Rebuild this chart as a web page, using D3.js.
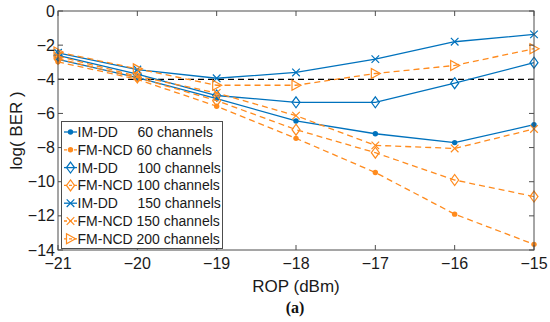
<!DOCTYPE html>
<html>
<head>
<meta charset="utf-8">
<script src="https://cdn.jsdelivr.net/npm/d3@7"></script>
<style>
  body { margin: 0; background: #fff; }
  text { font-family: "Liberation Sans", Arial, sans-serif; }
</style>
</head>
<body>
<svg id="chart" width="550" height="322"></svg>
<script>
// data
var rop = [-21, -20, -19, -18, -17, -16, -15];
var imdd60   = [-2.84, -3.9, -5.13, -6.44, -7.19, -7.71, -6.66];
var fmncd60  = [-2.98, -4.0, -5.58, -7.46, -9.46, -11.9, -13.67];
var imdd100  = [-2.6, -3.7, -4.95, -5.35, -5.35, -4.23, -3.03];
var fmncd100 = [-2.8, -3.9, -5.25, -6.95, -8.3, -9.9, -10.87];
var imdd150  = [-2.45, -3.43, -3.94, -3.6, -2.82, -1.8, -1.37];
var fmncd150 = [-2.65, -3.82, -4.8, -6.13, -7.87, -8.05, -6.91];
var fmncd200 = [-2.4, -3.39, -4.35, -4.35, -3.66, -3.19, -2.21];
var threshold = -4;
var xTicks = [-21, -20, -19, -18, -17, -16, -15];
var yTicks = [0, -2, -4, -6, -8, -10, -12, -14];

var blue = '#0072BD', orange = '#FF8B1E';

var series = [
  {tech: 'IM-DD',  ch: '60 channels',  vals: imdd60,   color: blue,   dash: null,  mark: 'dot'},
  {tech: 'FM-NCD', ch: '60 channels',  vals: fmncd60,  color: orange, dash: '6,4', mark: 'dot'},
  {tech: 'IM-DD',  ch: '100 channels', vals: imdd100,  color: blue,   dash: null,  mark: 'diamond'},
  {tech: 'FM-NCD', ch: '100 channels', vals: fmncd100, color: orange, dash: '6,4', mark: 'diamond'},
  {tech: 'IM-DD',  ch: '150 channels', vals: imdd150,  color: blue,   dash: null,  mark: 'x'},
  {tech: 'FM-NCD', ch: '150 channels', vals: fmncd150, color: orange, dash: '6,4', mark: 'x'},
  {tech: 'FM-NCD', ch: '200 channels', vals: fmncd200, color: orange, dash: '6,4', mark: 'tri'}
];

var L = 58, T = 11, R = 534, B = 250;
var svg = d3.select('#chart');
var x = d3.scaleLinear().domain([-21, -15]).range([L, R]);
var y = d3.scaleLinear().domain([-14, 0]).range([B, T]);
var axisColor = '#4d4d4d';
var textColor = '#1a1a1a';

// threshold line
svg.append('line')
  .attr('x1', x(-21)).attr('x2', x(-15))
  .attr('y1', y(threshold)).attr('y2', y(threshold))
  .attr('stroke', '#000').attr('stroke-width', 1.3).attr('stroke-dasharray', '6,4');

var line = d3.line().x(function (d, i) { return x(rop[i]); }).y(function (d) { return y(d); });

function drawMarker(g, type, cx, cy, color) {
  if (type === 'dot') {
    g.append('circle').attr('cx', cx).attr('cy', cy).attr('r', 2.7).attr('fill', color);
  } else if (type === 'diamond') {
    g.append('path').attr('d', 'M' + cx + ',' + (cy - 5.5) + 'L' + (cx + 4) + ',' + cy + 'L' + cx + ',' + (cy + 5.5) + 'L' + (cx - 4) + ',' + cy + 'Z')
      .attr('fill', 'none').attr('stroke', color).attr('stroke-width', 1.2);
  } else if (type === 'x') {
    var s = 3.8;
    g.append('path').attr('d', 'M' + (cx - s) + ',' + (cy - s) + 'L' + (cx + s) + ',' + (cy + s) + 'M' + (cx - s) + ',' + (cy + s) + 'L' + (cx + s) + ',' + (cy - s))
      .attr('fill', 'none').attr('stroke', color).attr('stroke-width', 1.2);
  } else if (type === 'tri') {
    g.append('path').attr('d', 'M' + (cx - 4) + ',' + (cy - 5) + 'L' + (cx + 5) + ',' + cy + 'L' + (cx - 4) + ',' + (cy + 5) + 'Z')
      .attr('fill', 'none').attr('stroke', color).attr('stroke-width', 1.2);
  }
}

series.forEach(function (s) {
  var g = svg.append('g');
  g.append('path').attr('d', line(s.vals))
    .attr('fill', 'none').attr('stroke', s.color).attr('stroke-width', 1.3)
    .attr('stroke-dasharray', s.dash);
  s.vals.forEach(function (v, i) { drawMarker(g, s.mark, x(rop[i]), y(v), s.color); });
});

// axes: box with inward ticks on all sides
var tickLen = 5;
var ax = svg.append('g');
ax.append('rect').attr('x', L).attr('y', T).attr('width', R - L).attr('height', B - T)
  .attr('fill', 'none').attr('stroke', axisColor).attr('stroke-width', 1);
xTicks.forEach(function (t) {
  ax.append('line').attr('x1', x(t)).attr('x2', x(t)).attr('y1', B).attr('y2', B - tickLen).attr('stroke', axisColor);
  ax.append('line').attr('x1', x(t)).attr('x2', x(t)).attr('y1', T).attr('y2', T + tickLen).attr('stroke', axisColor);
  ax.append('text').attr('x', x(t)).attr('y', B + 19).attr('text-anchor', 'middle')
    .attr('font-size', 16).attr('fill', textColor).text(String(t).replace('-', '\u2212'));
});
yTicks.forEach(function (t) {
  ax.append('line').attr('x1', L).attr('x2', L + tickLen).attr('y1', y(t)).attr('y2', y(t)).attr('stroke', axisColor);
  ax.append('line').attr('x1', R).attr('x2', R - tickLen).attr('y1', y(t)).attr('y2', y(t)).attr('stroke', axisColor);
  ax.append('text').attr('x', L - 3).attr('y', y(t)).attr('dy', '0.35em').attr('text-anchor', 'end')
    .attr('font-size', 16).attr('fill', textColor).text(String(t).replace('-', '\u2212'));
});

svg.append('text').attr('x', (L + R) / 2).attr('y', 292).attr('text-anchor', 'middle')
  .attr('font-size', 17).attr('fill', textColor).text('ROP (dBm)');
svg.append('text').attr('transform', 'translate(22,' + ((T + B) / 2) + ') rotate(-90)')
  .attr('text-anchor', 'middle').attr('font-size', 17).attr('fill', textColor).text('log( BER )');
svg.append('text').attr('x', (L + R) / 2 - 1).attr('y', 313).attr('text-anchor', 'middle')
  .attr('font-size', 16).attr('font-weight', 'bold').attr('fill', '#111')
  .style('font-family', '"Liberation Serif", "Times New Roman", serif').text('(a)');

// legend
var lg = svg.append('g');
lg.append('rect').attr('x', 61.5).attr('y', 121.5).attr('width', 161).attr('height', 127)
  .attr('fill', '#fff').attr('stroke', axisColor).attr('stroke-width', 1);
series.forEach(function (s, i) {
  var ry = 132 + i * 17.8;
  lg.append('line').attr('x1', 64).attr('x2', 77).attr('y1', ry).attr('y2', ry)
    .attr('stroke', s.color).attr('stroke-width', 1.3).attr('stroke-dasharray', s.dash ? '3,2' : null);
  drawMarker(lg, s.mark, 70.5, ry, s.color);
  lg.append('text').attr('x', 77.5).attr('y', ry).attr('dy', '0.35em')
    .attr('font-size', 14).attr('fill', textColor).text(s.tech);
  lg.append('text').attr('x', s.tech === 'IM-DD' ? 137.5 : 136.5).attr('y', ry).attr('dy', '0.35em')
    .attr('font-size', 14).attr('fill', textColor).text(s.ch);
});
</script>
</body>
</html>
